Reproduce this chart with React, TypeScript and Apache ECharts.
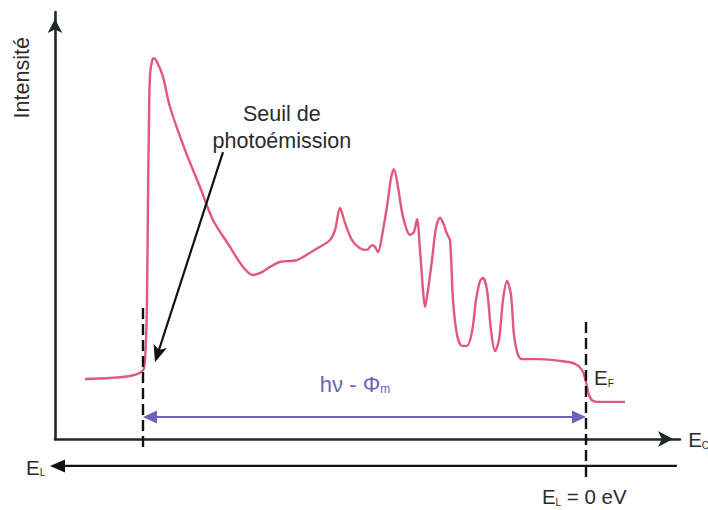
import React, { useEffect, useRef } from "react";
import * as echarts from "echarts";

// Spectrum (arbitrary units): kinetic energy vs intensity
const energy = [
  4.8, 8.8, 12.0, 13.6, 14.24, 14.56, 14.72, 14.88, 15.04, 15.2, 15.52, 15.84, 16.32, 17.28, 18.4, 20.8,
  23.2, 25.28, 28.0, 30.08, 31.68, 33.12, 34.4, 36.0, 38.72, 40.8, 42.4, 44.0, 44.8, 45.6, 46.4, 47.52,
  48.8, 49.92, 50.72, 51.2, 51.68, 52.48, 53.28, 53.76, 54.24, 54.88, 55.68, 56.8, 57.44, 57.92, 58.4,
  58.88, 59.2, 59.68, 60.32, 60.96, 61.6, 62.24, 62.72, 63.2, 63.68, 64.32, 65.12, 65.92, 66.72, 67.36,
  68.0, 68.48, 69.12, 69.76, 70.4, 71.04, 71.68, 72.32, 72.96, 73.44, 74.08, 74.72, 77.6, 80.8, 83.2,
  84.32, 84.96, 85.44, 86.08, 87.2, 91.2,
];
const intensity = [
  14.05, 14.3, 14.75, 15.5, 16.6, 23.2, 32.55, 56.0, 74.7, 85.2, 88.5, 89.2, 88.3, 84.8, 77.75, 67.7,
  59.0, 51.3, 45.0, 40.3, 38.4, 39.1, 40.3, 41.45, 41.9, 43.6, 45.0, 46.6, 48.9, 54.1, 50.6, 46.6,
  44.7, 44.3, 45.4, 45.0, 43.8, 48.9, 56.0, 61.1, 63.2, 59.0, 52.0, 47.8, 48.5, 51.5, 44.3,
  34.9, 30.9, 34.9, 41.9, 49.4, 51.8, 50.1, 48.0, 46.6, 32.55, 24.4, 21.8, 21.8, 25.1, 32.55,
  37.0, 37.7, 34.9, 25.5, 20.6, 23.2, 32.55, 37.0, 33.7, 24.4, 19.7, 18.7, 18.7, 18.3, 17.6,
  16.2, 13.35, 10.3, 8.9, 8.7, 8.7,
];

// Annotation anchors (data units)
const thresholdX = 14.08; // seuil de photoémission
const fermiX = 84.96; // E_F
const thresholdDash = [30.7, -2.6];
const fermiDash = [27.4, -9.1];
const workArrowY = 5.15;
const workLabel = [48.0, 13.3];
const fermiLabel = [86.24, 14.75];
const bindingAxisY = -6.3;
const bindingAxisX = [-0.8, 99.5];
const bindingLabel = [-4.64, -6.3];
const bindingZeroLabel = [77.9, -13.2];
const kineticLabel = [101.3, 0.2];
const seuilArrow = [
  [26.88, 67.2],
  [16.0, 18.0],
];
const seuilLabel = [36.3, 72.95];
const intensityLabel = [-5.28, 84.6];

const FONT = "'Liberation Sans', Arial, Helvetica, sans-serif";
const AXIS_COLOR = "#1e2828";
const CURVE_COLOR = "#e2587a";
const PURPLE = "#6c62b6";
const TEXT_COLOR = "#2b2b2b";

function arrowHead(tip: number[], from: number[], len: number, half: number, notch = 0) {
  const dx = tip[0] - from[0];
  const dy = tip[1] - from[1];
  const d = Math.hypot(dx, dy) || 1;
  const ux = dx / d;
  const uy = dy / d;
  const bx = tip[0] - ux * len;
  const by = tip[1] - uy * len;
  const pts = [
    [tip[0], tip[1]],
    [bx - uy * half, by + ux * half],
  ];
  if (notch > 0) pts.push([tip[0] - ux * len * (1 - notch), tip[1] - uy * len * (1 - notch)]);
  pts.push([bx + uy * half, by - ux * half]);
  return pts;
}

export default function App() {
  const ref = useRef<HTMLDivElement>(null);

  useEffect(() => {
    if (!ref.current) return;
    const chart = echarts.init(ref.current, null, { renderer: "svg" });
    const data = energy.map((e, i) => [e, intensity[i]]);

    const axisCommon = {
      type: "value" as const,
      min: 0,
      max: 100,
      axisTick: { show: false },
      axisLabel: { show: false },
      splitLine: { show: false },
    };

    chart.setOption({
      animation: false,
      backgroundColor: "#ffffff",
      grid: { left: 55, top: 12, width: 625, height: 427 },
      xAxis: {
        ...axisCommon,
        axisLine: {
          show: true,
          onZero: false,
          symbol: ["none", "arrow"],
          symbolSize: [12, 15],
          symbolOffset: [0, -7],
          lineStyle: { color: AXIS_COLOR, width: 2.6 },
        },
      },
      yAxis: {
        ...axisCommon,
        axisLine: {
          show: true,
          onZero: false,
          symbol: ["none", "arrow"],
          symbolSize: [11, 14],
          symbolOffset: [0, -7],
          lineStyle: { color: AXIS_COLOR, width: 2.6 },
        },
      },
      series: [
        {
          type: "line",
          data,
          showSymbol: false,
          smooth: 0.3,
          lineStyle: { color: CURVE_COLOR, width: 2.4 },
          z: 3,
        },
      ],
    });

    const P = (x: number, y: number) => chart.convertToPixel({ gridIndex: 0 }, [x, y]) as number[];

    const graphics: any[] = [];

    // dashed verticals
    const t1 = P(thresholdX, thresholdDash[0]);
    const t2 = P(thresholdX, thresholdDash[1]);
    const f1 = P(fermiX, fermiDash[0]);
    const f2 = P(fermiX, fermiDash[1]);
    for (const [a, b] of [
      [t1, t2],
      [f1, f2],
    ]) {
      graphics.push({
        type: "line",
        shape: { x1: a[0], y1: a[1], x2: b[0], y2: b[1] },
        style: { stroke: "#111", lineWidth: 2.4, lineDash: [11, 5] },
        z: 10,
      });
    }

    // purple double arrow
    const wL = P(thresholdX, workArrowY);
    const wR = P(fermiX, workArrowY);
    graphics.push({
      type: "line",
      shape: { x1: wL[0] + 6, y1: wL[1], x2: wR[0] - 6, y2: wR[1] },
      style: { stroke: PURPLE, lineWidth: 2.2 },
      z: 10,
    });
    graphics.push({
      type: "polygon",
      shape: { points: arrowHead(wL, wR, 14, 6.5) },
      style: { fill: PURPLE },
      z: 11,
    });
    graphics.push({
      type: "polygon",
      shape: { points: arrowHead(wR, wL, 14, 6.5) },
      style: { fill: PURPLE },
      z: 11,
    });

    // binding energy axis
    const bL = P(bindingAxisX[0], bindingAxisY);
    const bR = P(bindingAxisX[1], bindingAxisY);
    graphics.push({
      type: "line",
      shape: { x1: bL[0] + 8, y1: bL[1], x2: bR[0], y2: bR[1] },
      style: { stroke: "#111", lineWidth: 2.2 },
      z: 10,
    });
    graphics.push({
      type: "polygon",
      shape: { points: arrowHead(bL, bR, 15, 6.5) },
      style: { fill: "#111" },
      z: 11,
    });

    // seuil arrow
    const s0 = P(seuilArrow[0][0], seuilArrow[0][1]);
    const s1 = P(seuilArrow[1][0], seuilArrow[1][1]);
    graphics.push({
      type: "line",
      shape: { x1: s0[0], y1: s0[1], x2: s1[0] + (s0[0] - s1[0]) * 0.04, y2: s1[1] + (s0[1] - s1[1]) * 0.04 },
      style: { stroke: "#111", lineWidth: 2.2 },
      z: 10,
    });
    graphics.push({
      type: "polygon",
      shape: { points: arrowHead(s1, s0, 17, 7, 0.25) },
      style: { fill: "#111" },
      z: 11,
    });

    // texts
    const sl = P(seuilLabel[0], seuilLabel[1]);
    graphics.push({
      type: "text",
      x: sl[0],
      y: sl[1],
      style: {
        text: "Seuil de\nphotoémission",
        fontFamily: FONT,
        fontSize: 21.5,
        lineHeight: 27,
        fill: TEXT_COLOR,
        align: "center",
        verticalAlign: "middle",
      },
      z: 12,
    });

    const il = P(intensityLabel[0], intensityLabel[1]);
    graphics.push({
      type: "text",
      x: il[0],
      y: il[1],
      rotation: Math.PI / 2,
      style: {
        text: "Intensité",
        fontFamily: FONT,
        fontSize: 21.5,
        fill: TEXT_COLOR,
        align: "center",
        verticalAlign: "middle",
      },
      z: 12,
    });

    const wl = P(workLabel[0], workLabel[1]);
    graphics.push({
      type: "text",
      x: wl[0],
      y: wl[1],
      style: {
        text: "{b|hν - Φ}{s|m}",
        fontFamily: FONT,
        fill: PURPLE,
        align: "center",
        verticalAlign: "middle",
        rich: {
          b: { fontFamily: FONT, fontSize: 22, fill: PURPLE, lineHeight: 26, verticalAlign: "bottom" },
          s: { fontFamily: FONT, fontSize: 12, fill: PURPLE, lineHeight: 26, verticalAlign: "bottom" },
        },
      },
      z: 12,
    });

    const subText = (pos: number[], main: string, sub: string, extra = "", align = "left") => ({
      type: "text",
      x: pos[0],
      y: pos[1],
      style: {
        text: `{b|${main}}{s|${sub}}` + (extra ? `{b|${extra}}` : ""),
        fontFamily: FONT,
        fill: TEXT_COLOR,
        align,
        verticalAlign: "middle",
        rich: {
          b: { fontFamily: FONT, fontSize: 20.5, fill: TEXT_COLOR, lineHeight: 24, verticalAlign: "bottom" },
          s: { fontFamily: FONT, fontSize: 10, fill: TEXT_COLOR, lineHeight: 24, verticalAlign: "bottom" },
        },
      },
      z: 12,
    });

    graphics.push(subText(P(fermiLabel[0], fermiLabel[1]), "E", "F"));
    graphics.push(subText(P(bindingLabel[0], bindingLabel[1]), "E", "L"));
    graphics.push(subText(P(bindingZeroLabel[0], bindingZeroLabel[1]), "E", "L", " = 0 eV"));
    graphics.push(subText(P(kineticLabel[0], kineticLabel[1]), "E", "C"));

    chart.setOption({ graphic: graphics });

    return () => chart.dispose();
  }, []);

  return (
    <div
      ref={ref}
      style={{ position: "absolute", left: 0, top: 0, width: 708, height: 510, background: "#fff" }}
    />
  );
}
